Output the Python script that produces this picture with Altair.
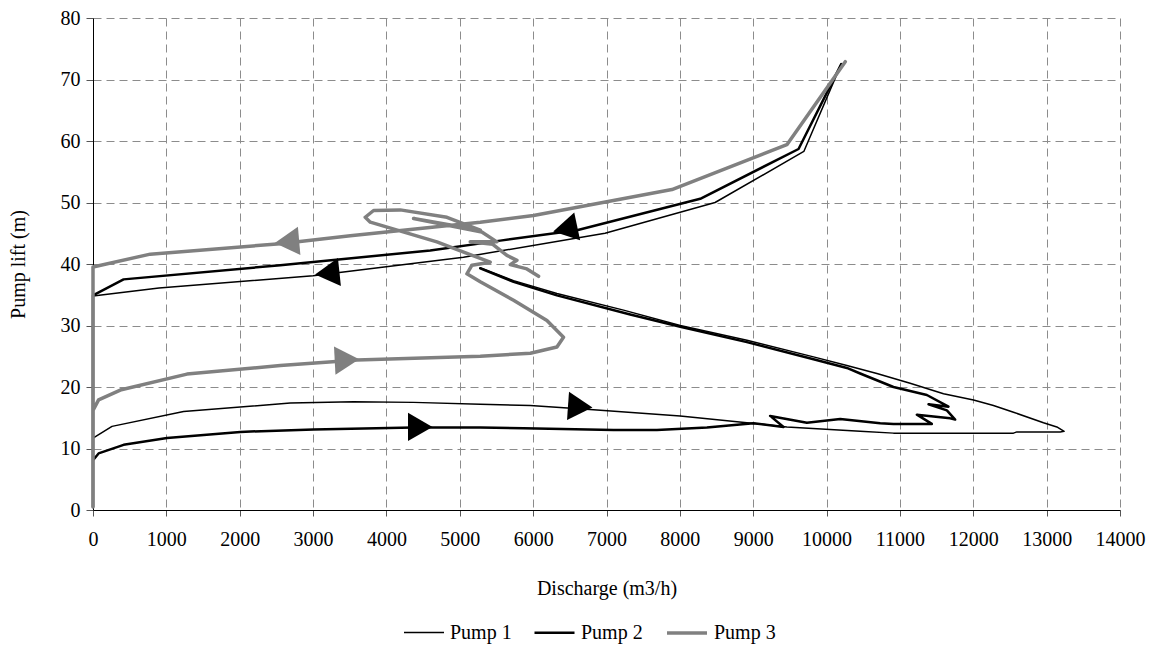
import altair as alt
import pandas as pd

# ---- data (discharge m3/h, lift m), in path order ----
pump1_x = [10200, 9690, 8480, 6980, 5050, 3000, 900, 0,
           0, 0, 259, 1235, 2689, 3552, 4370, 5279, 5960, 6823, 8005, 8914, 9459,
           10458, 10912, 12548, 12594, 13184, 13239, 13139, 12957, 12548, 12275,
           12003, 11594, 11139, 10686, 10277, 9822, 8914, 8005, 7232, 6324, 5733, 5280]
pump1_y = [72.5, 58.3, 50.0, 45.0, 41.1, 38.1, 36.1, 34.8,
           0.5, 11.7, 13.6, 16.0, 17.4, 17.6, 17.5, 17.2, 17.0, 16.3, 15.3, 14.2, 13.5,
           12.8, 12.5, 12.5, 12.7, 12.7, 12.8, 13.5, 14.2, 15.9, 17.0,
           17.9, 18.9, 20.6, 22.2, 23.5, 24.9, 27.6, 30.0, 32.5, 35.2, 37.3, 39.4]

pump2_x = [10200, 9618, 8278, 6597, 5552, 4597, 2553, 417, 0,
           0, 0, 76, 417, 1009, 2008, 3007, 4370, 5279, 5869, 7096, 7687, 8369,
           9004, 9413, 9231, 9732, 10186, 10731, 10912, 11435, 11231, 11685, 11753,
           11640, 11390, 11662, 11367, 10912, 10458, 10277, 9822, 8914, 8005, 7323,
           6324, 5733, 5279]
pump2_y = [72.5, 58.7, 50.6, 45.5, 43.8, 42.2, 39.8, 37.5, 34.9,
           0.5, 8.1, 9.2, 10.6, 11.7, 12.7, 13.1, 13.4, 13.4, 13.3, 13.0, 13.0, 13.4,
           14.1, 13.5, 15.3, 14.2, 14.8, 14.1, 14.0, 14.0, 15.5, 14.9, 14.7,
           16.2, 17.2, 16.8, 18.7, 20.0, 22.2, 23.1, 24.5, 27.3, 29.8, 31.8,
           34.9, 37.1, 39.3]

pump3_x = [10255, 9459, 7892, 6005, 5279, 3507, 2553, 781, 0,
           0, 0, 76, 372, 1281, 2553, 3598, 5279, 5962, 6324, 6414, 6188, 5733,
           5279, 5097, 5166, 5415, 5279, 4688, 3780, 3711, 3825, 4188, 4825, 5279,
           4370, 5300, 5506, 5142, 5450, 5642, 5779, 5688, 5915, 6074]
pump3_y = [72.9, 59.4, 52.1, 47.9, 46.8, 44.6, 43.3, 41.6, 39.5,
           0.5, 16.2, 17.9, 19.5, 22.1, 23.5, 24.4, 25.0, 25.5, 26.5, 28.1, 30.8, 34.1,
           37.1, 38.4, 39.8, 40.3, 40.9, 43.6, 46.8, 47.6, 48.7, 48.8, 47.6, 45.5,
           47.4, 45.2, 43.6, 43.6, 43.2, 41.4, 40.6, 39.9, 39.2, 38.0]

# direction arrows
arrow_x = [6642, 4461, 3462, 2644, 6437, 3193]
arrow_y = [16.8, 13.5, 24.4, 43.6, 45.7, 38.5]
arrow_angle = [4, 0, 357, 355, 348, 354]
arrow_shape = ["triangle-right", "triangle-right", "triangle-right",
               "triangle-left", "triangle-left", "triangle-left"]
arrow_color = ["#000000", "#000000", "#808080", "#808080", "#000000", "#000000"]

x_ticks = list(range(0, 14001, 1000))
y_ticks = list(range(0, 81, 10))

series = ["Pump 1", "Pump 2", "Pump 3"]

rows = []
for name, xs, ys in [("Pump 1", pump1_x, pump1_y), ("Pump 2", pump2_x, pump2_y),
                     ("Pump 3", pump3_x, pump3_y)]:
    for i, (a, b) in enumerate(zip(xs, ys)):
        rows.append({"pump": name, "q": a, "h": b, "i": i})
df = pd.DataFrame(rows)

arrows = pd.DataFrame({"q": arrow_x, "h": arrow_y, "angle": arrow_angle,
                       "shape": arrow_shape, "color": arrow_color})

FONT = "Liberation Serif"
FS = 20

xscale = alt.Scale(domain=[0, 14000], nice=False, zero=True)
yscale = alt.Scale(domain=[0, 80], nice=False, zero=True)

xaxis = alt.Axis(values=x_ticks, title="Discharge (m3/h)", format="d",
                 grid=True, gridDash=[8, 5], gridColor="#8c8c8c", gridWidth=1,
                 domainColor="#000000", tickColor="#555555", tickSize=6,
                 labelFont=FONT, labelFontSize=FS, labelColor="#000000", labelPadding=13,
                 titleFont=FONT, titleFontSize=FS, titleFontWeight="normal",
                 titleColor="#000000", titlePadding=29, labelFlush=False)
yaxis = alt.Axis(values=y_ticks, title="Pump lift (m)", format="d",
                 grid=True, gridDash=[8, 5], gridColor="#8c8c8c", gridWidth=1,
                 domainColor="#000000", tickColor="#555555", tickSize=7,
                 labelFont=FONT, labelFontSize=FS, labelColor="#000000", labelPadding=6,
                 titleFont=FONT, titleFontSize=FS, titleFontWeight="normal",
                 titleColor="#000000", titlePadding=32, labelFlush=False)

legend = alt.Legend(title=None, orient="none", direction="horizontal",
                    legendX=310, legendY=593, symbolType="stroke", symbolSize=1600,
                    labelFont=FONT, labelFontSize=FS, labelColor="#000000",
                    labelOffset=5, columnPadding=17, padding=0)

lines = alt.Chart(df).mark_line(strokeCap="round", strokeJoin="round").encode(
    x=alt.X("q:Q", scale=xscale, axis=xaxis),
    y=alt.Y("h:Q", scale=yscale, axis=yaxis),
    color=alt.Color("pump:N", scale=alt.Scale(domain=series,
                    range=["#000000", "#000000", "#808080"]), legend=legend),
    strokeWidth=alt.StrokeWidth("pump:N", scale=alt.Scale(domain=series,
                    range=[1.5, 3.5, 6]), legend=legend),
    order=alt.Order("i:Q"),
)

heads = alt.Chart(arrows).mark_point(filled=True, opacity=1, size=800, strokeWidth=0).encode(
    x=alt.X("q:Q", scale=xscale),
    y=alt.Y("h:Q", scale=yscale),
    shape=alt.Shape("shape:N", scale=None),
    angle=alt.Angle("angle:Q", scale=None),
    color=alt.Color("color:N", scale=None),
)

chart = alt.layer(lines, heads).properties(
    width=1027, height=492,
    autosize=alt.AutoSizeParams(type="none"),
    padding={"left": 85, "top": 10, "right": 30, "bottom": 140},
    background="#ffffff",
).configure_view(stroke=None)

chart.save("out.html", embed_options={"renderer": "svg", "actions": False})
